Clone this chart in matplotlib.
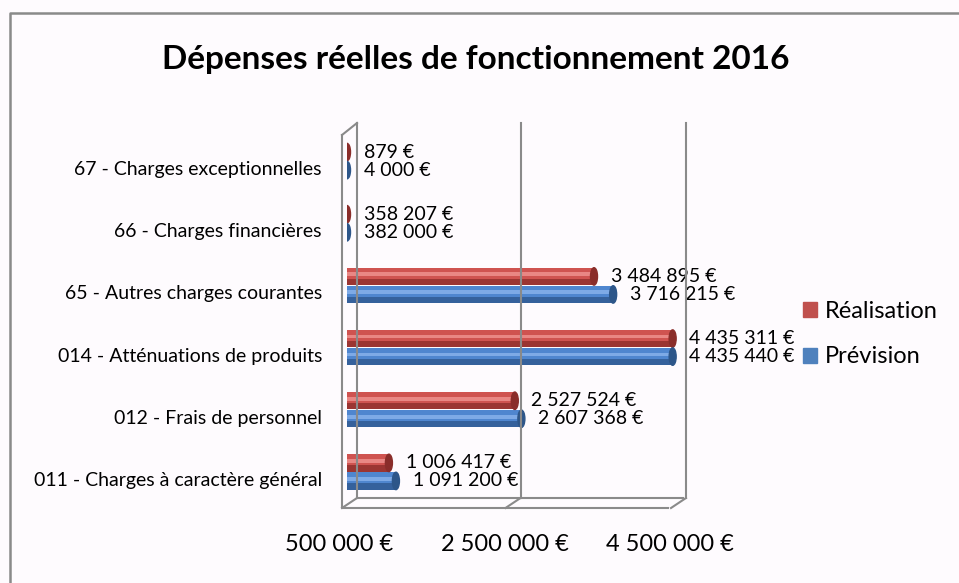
import numpy as np
import matplotlib.pyplot as plt
import matplotlib.transforms as mtransforms
from matplotlib.patches import Ellipse, Patch
from matplotlib.lines import Line2D

plt.rcParams["font.family"] = ["Lato", "DejaVu Sans"]

categories = ["011 - Charges à caractère général",
              "012 - Frais de personnel",
              "014 - Atténuations de produits",
              "65 - Autres charges courantes",
              "66 - Charges financières",
              "67 - Charges exceptionnelles"]
realisation = [1006417, 2527524, 4435311, 3484895, 358207, 879]
prevision = [1091200, 2607368, 4435440, 3716215, 382000, 4000]
x_ticks = [500000, 2500000, 4500000]
title = "Dépenses réelles de fonctionnement 2016"

W, H = 959, 583
BG = "#fefbfe"
EDGE = "#8a8a8a"
styles = {
    "Réalisation": dict(base="#cf5350", light="#e98784", dark="#9b3532", cap="#8a2d2a", legend="#c0504d"),
    "Prévision": dict(base="#4f86cf", light="#7eaae6", dark="#35619c", cap="#2d5689", legend="#4f81bd"),
}


def euro(v):
    return f"{v:,}".replace(",", " ") + " €"


def px(x, y):
    # pixel position (from top left) to figure fraction
    return x / W, 1 - y / H


fig = plt.figure(figsize=(W / 100, H / 100), dpi=100, facecolor=BG)
ax = fig.add_axes([347 / W, 1 - 503 / H, (678 - 347) / W, (503 - 130) / H])
ax.set_facecolor("none")

xmin, xmax = x_ticks[0], x_ticks[-1]
ax.set_xlim(xmin, xmax)
ax.set_ylim(-0.5, len(categories) - 0.5)

y = np.arange(len(categories))
bar_h = 0.28
cap_w = (xmax - xmin) * 7 / 331

for vals, name, dy in [(realisation, "Réalisation", 0.145), (prevision, "Prévision", -0.145)]:
    st = styles[name]
    vals = np.array(vals)
    widths = np.maximum(vals - xmin, 0)
    yy = y + dy
    # cylinder body: base, lower shadow, highlight band
    ax.barh(yy, widths, height=bar_h, left=xmin, color=st["base"], zorder=3)
    ax.barh(yy - bar_h * 0.32, widths, height=bar_h * 0.36, left=xmin, color=st["dark"], zorder=3)
    ax.barh(yy + bar_h * 0.12, widths, height=bar_h * 0.22, left=xmin, color=st["light"], zorder=3)
    for v, w, yc in zip(vals, widths, yy):
        ax.add_patch(Ellipse((xmin + w, yc), cap_w, bar_h, color=st["cap"], zorder=4))
        ax.annotate(euro(v), (xmin + w, yc), xytext=(12, 0),
                    textcoords="offset points", ha="left", va="center",
                    fontsize=14, zorder=5)

ax.set_yticks(y)
ax.set_yticklabels(categories, fontsize=14)
ax.set_xticks(x_ticks)
ax.set_xticklabels([euro(t) for t in x_ticks], fontsize=17)
ax.tick_params(axis="y", length=0, pad=18)
ax.tick_params(axis="x", length=0, pad=22)
for lab in ax.get_yticklabels():
    lab.set_transform(lab.get_transform() + mtransforms.ScaledTranslation(0, -0.07, fig.dpi_scale_trans))
for lab in ax.get_xticklabels():
    lab.set_transform(lab.get_transform() + mtransforms.ScaledTranslation(-0.08, 0, fig.dpi_scale_trans))
for s in ax.spines.values():
    s.set_visible(False)

# 3D box: back wall gridlines shifted right of the bars, floor below
fig.canvas.draw()
to_px = ax.transData
for t in x_ticks:
    xd = to_px.transform((t, 0))[0]
    xb = xd + 8 if t > xmin else 357
    xf = xb - 15
    fig.add_artist(Line2D(*zip(px(xb, 123), px(xb, 498)), color=EDGE, lw=1.5))
    fig.add_artist(Line2D(*zip(px(xb, 498), px(xf, 508)), color=EDGE, lw=1.5))
fig.add_artist(Line2D(*zip(px(342, 135), px(342, 508), px(668, 508)), color=EDGE, lw=1.5))
fig.add_artist(Line2D(*zip(px(342, 135), px(357, 123)), color=EDGE, lw=1.5))
fig.add_artist(Line2D(*zip(px(357, 498), px(683, 498)), color=EDGE, lw=1.5))

# chart frame
fig.add_artist(Line2D(*zip(px(10, H), px(10, 13), px(W, 13)), color=EDGE, lw=1.8))

fig.text(476 / W, 1 - 60 / H, title, ha="center", va="center", fontsize=24, fontweight="bold")

handles = [Patch(color=styles[n]["legend"]) for n in ["Réalisation", "Prévision"]]
fig.legend(handles, ["Réalisation", "Prévision"], loc="center left",
           bbox_to_anchor=(786 / W, 1 - 334 / H), frameon=False, fontsize=17,
           handlelength=0.6, handleheight=0.6, handletextpad=0.35, labelspacing=1.05,
           borderpad=0.2)

fig.savefig("out.png", dpi=100, facecolor=BG)
